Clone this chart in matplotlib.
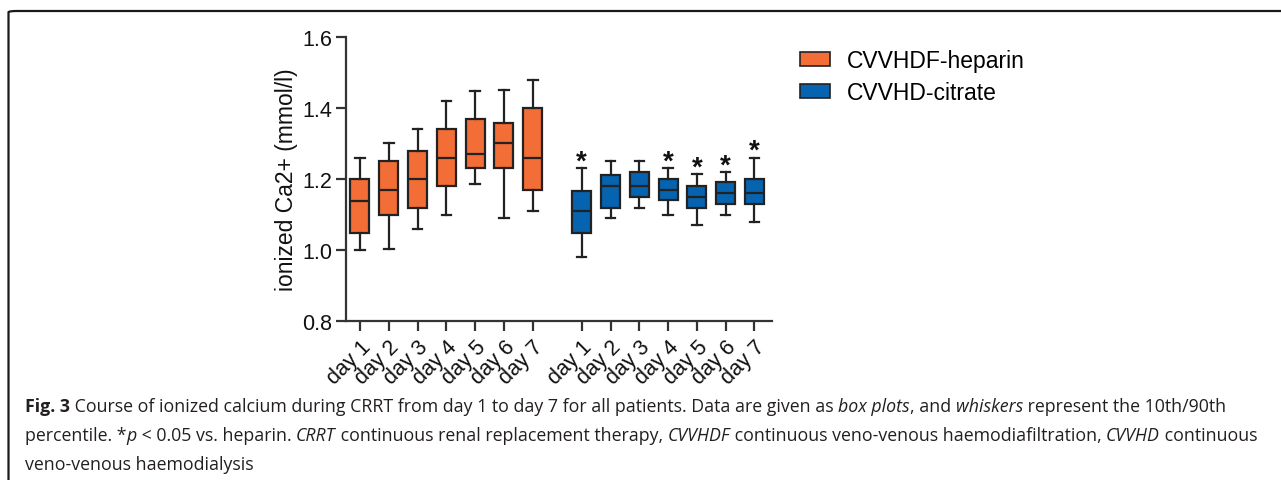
import matplotlib
matplotlib.use("Agg")
import matplotlib.pyplot as plt
from matplotlib.patches import Patch, FancyBboxPatch

plt.rcParams['font.family'] = ['Liberation Sans', 'DejaVu Sans']

# box plot stats (10th/90th whiskers)
days = ['day 1', 'day 2', 'day 3', 'day 4', 'day 5', 'day 6', 'day 7']
hep_lo = [1.000, 1.003, 1.059, 1.099, 1.186, 1.089, 1.109]
hep_q1 = [1.049, 1.099, 1.119, 1.180, 1.230, 1.230, 1.170]
hep_med = [1.139, 1.170, 1.200, 1.260, 1.270, 1.300, 1.260]
hep_q3 = [1.200, 1.250, 1.279, 1.340, 1.368, 1.359, 1.400]
hep_hi = [1.260, 1.300, 1.340, 1.420, 1.448, 1.450, 1.480]

cit_lo = [0.980, 1.089, 1.119, 1.099, 1.069, 1.099, 1.079]
cit_q1 = [1.049, 1.119, 1.150, 1.140, 1.119, 1.129, 1.129]
cit_med = [1.109, 1.180, 1.180, 1.170, 1.150, 1.160, 1.160]
cit_q3 = [1.165, 1.210, 1.220, 1.200, 1.180, 1.191, 1.200]
cit_hi = [1.230, 1.250, 1.250, 1.230, 1.214, 1.220, 1.260]
cit_sig = [True, False, False, True, True, True, True]

orange = '#F36D36'
blue = '#0563AF'
dark = '#222222'

fig = plt.figure(figsize=(12.81, 4.81), dpi=100)
ax = fig.add_axes([0.2701, 0.3306, 0.3326, 0.5904])

pos_hep = list(range(7))
pos_cit = [p + 7.7 for p in range(7)]


def make_stats(lo, q1, med, q3, hi):
    return [dict(whislo=a, q1=b, med=c, q3=d, whishi=e, fliers=[])
            for a, b, c, d, e in zip(lo, q1, med, q3, hi)]


for stats, pos, col in [(make_stats(hep_lo, hep_q1, hep_med, hep_q3, hep_hi), pos_hep, orange),
                        (make_stats(cit_lo, cit_q1, cit_med, cit_q3, cit_hi), pos_cit, blue)]:
    ax.bxp(stats, positions=pos, widths=0.66, patch_artist=True, showfliers=False,
           capwidths=0.33,
           boxprops=dict(facecolor=col, edgecolor=dark, linewidth=1.6),
           medianprops=dict(color=dark, linewidth=1.6),
           whiskerprops=dict(color=dark, linewidth=1.6),
           capprops=dict(color=dark, linewidth=1.6))

# significance stars
for p, hi, s in zip(pos_cit, cit_hi, cit_sig):
    if s:
        ax.text(p, hi + 0.019, '*', ha='center', va='center', fontsize=20,
                fontweight='bold', color='#111111')

ax.set_xlim(-0.486, 14.31)
ax.set_ylim(0.8, 1.6)
ax.set_yticks([0.8, 1.0, 1.2, 1.4, 1.6])
ax.set_yticklabels(['0.8', '1.0', '1.2', '1.4', '1.6'])
ax.set_xticks(pos_hep + pos_cit)
ax.set_xticklabels(days + days, rotation=45, ha='right', rotation_mode='anchor')
ax.tick_params(axis='both', labelsize=15.5, length=7, width=1.6, color='#333333',
               labelcolor='#111111')
ax.tick_params(axis='y', pad=3)
ax.tick_params(axis='x', pad=4)
for side in ['top', 'right']:
    ax.spines[side].set_visible(False)
for side in ['left', 'bottom']:
    ax.spines[side].set_linewidth(1.6)
    ax.spines[side].set_color('#333333')
ax.set_ylabel('ionized Ca2+ (mmol/l)', fontsize=16.5, color='#111111', labelpad=3)

handles = [Patch(facecolor=orange, edgecolor=dark, linewidth=1.2, label='CVVHDF-heparin'),
           Patch(facecolor=blue, edgecolor=dark, linewidth=1.2, label='CVVHD-citrate')]
fig.legend(handles=handles, loc='upper left', bbox_to_anchor=(0.6245, 0.896),
           frameon=False, fontsize=16.5, handlelength=1.31, handleheight=0.61,
           handletextpad=0.74, labelspacing=0.4, borderaxespad=0, borderpad=0)

# frame around the figure panel
frame = FancyBboxPatch((8.5 / 1281, -0.1), 1.2, 1 - 12 / 481 + 0.1,
                       boxstyle='round,pad=0,rounding_size=0.007',
                       transform=fig.transFigure, facecolor='none',
                       edgecolor='#1a1a1a', linewidth=1.6, clip_on=False,
                       mutation_aspect=481 / 1281)
fig.patches.append(frame)

# caption with mixed styles
cap_font = 'Open Sans'
cap_color = '#231F20'
lines = [
    [("Fig. 3", 'bold'), (" Course of ionized calcium during CRRT from day 1 to day 7 for all patients. Data are given as ", 'normal'),
     ("box plots", 'italic'), (", and ", 'normal'), ("whiskers", 'italic'), (" represent the 10th/90th", 'normal')],
    [("percentile. *", 'normal'), ("p", 'italic'), (" < 0.05 vs. heparin. ", 'normal'), ("CRRT", 'italic'),
     (" continuous renal replacement therapy, ", 'normal'), ("CVVHDF", 'italic'),
     (" continuous veno-venous haemodiafiltration, ", 'normal'), ("CVVHD", 'italic'), (" continuous", 'normal')],
    [("veno-venous haemodialysis", 'normal')],
]
line_y = [407, 436, 465]
renderer = fig.canvas.get_renderer()
x0 = 25
fs = 12.75
for runs, yp in zip(lines, line_y):
    x = x0
    for txt, style in runs:
        kw = dict(fontsize=fs, color=cap_color, family=[cap_font, 'DejaVu Sans'])
        if style == 'bold':
            kw['fontweight'] = 'bold'
        elif style == 'italic':
            kw['fontstyle'] = 'italic'
        t = fig.text(x / 1281, 1 - yp / 481, txt, ha='left', va='center', **kw)
        bb = t.get_window_extent(renderer=renderer)
        x += bb.width

fig.savefig('out.png', dpi=100)
